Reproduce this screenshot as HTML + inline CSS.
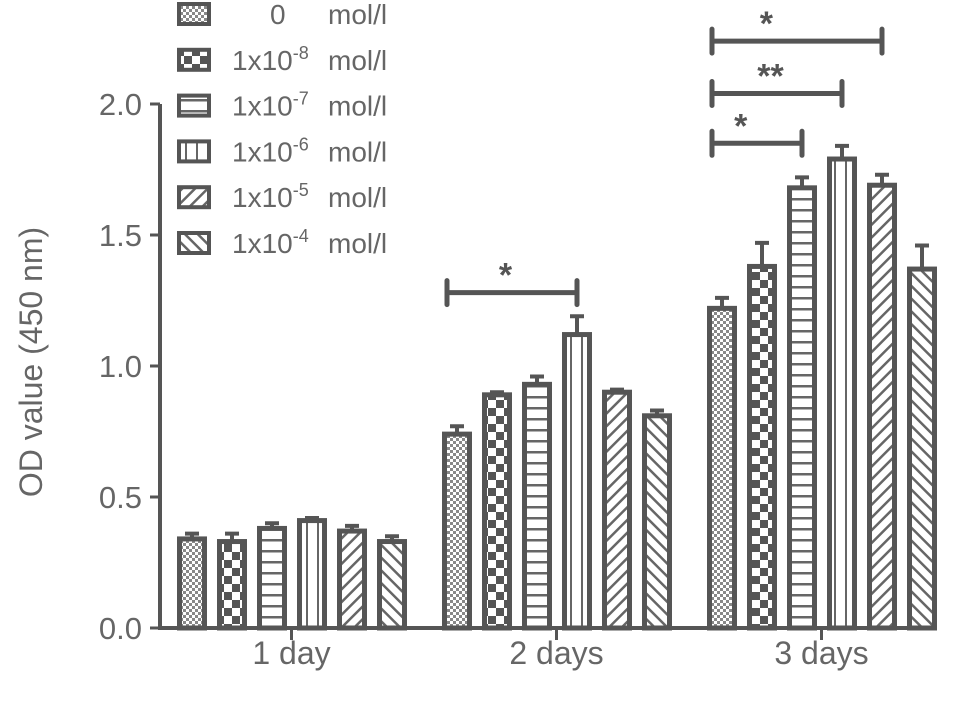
<!DOCTYPE html>
<html><head><meta charset="utf-8"><style>
html,body{margin:0;padding:0;background:#fff;}
svg{display:block;font-family:"Liberation Sans",sans-serif;}
</style></head><body>
<svg id="chart" width="969" height="713" viewBox="0 0 969 713" xmlns="http://www.w3.org/2000/svg">
<defs>
<pattern id="p0" width="6" height="6" patternUnits="userSpaceOnUse"><rect width="6" height="6" fill="#fff"/><rect x="0" y="0" width="3" height="3" fill="#888"/><rect x="3" y="3" width="3" height="3" fill="#888"/></pattern>
<pattern id="p1" width="16" height="16" patternUnits="userSpaceOnUse"><rect width="16" height="16" fill="#fff"/><rect x="0" y="0" width="8" height="8" fill="#555"/><rect x="8" y="8" width="8" height="8" fill="#555"/></pattern>
<pattern id="p2" width="10" height="11" patternUnits="userSpaceOnUse"><rect width="10" height="11" fill="#fff"/><rect y="0" width="10" height="2.5" fill="#666"/></pattern>
<pattern id="p3" width="11" height="10" patternUnits="userSpaceOnUse"><rect width="11" height="10" fill="#fff"/><rect x="9" width="2.5" height="10" fill="#666"/></pattern>
<pattern id="p4" width="9" height="9" patternUnits="userSpaceOnUse" patternTransform="rotate(45)"><rect width="9" height="9" fill="#fff"/><rect width="2.5" height="9" fill="#666"/></pattern>
<pattern id="p5" width="9" height="9" patternUnits="userSpaceOnUse" patternTransform="rotate(-45)"><rect width="9" height="9" fill="#fff"/><rect width="2.5" height="9" fill="#666"/></pattern>
</defs>
<g id="axes"></g><g id="bars"></g><g id="sig"></g><g id="legend"></g>
<text transform="translate(42,362) rotate(-90)" text-anchor="middle" font-size="32" fill="#666">OD value (450 nm)</text>
</svg>
<script>
const categories = ["1 day","2 days","3 days"];
const seriesNames = ["0","1x10-8","1x10-7","1x10-6","1x10-5","1x10-4"];
const seriesExp = ["","-8","-7","-6","-5","-4"];
const day1 = [0.34,0.33,0.38,0.41,0.37,0.33];
const day2 = [0.74,0.89,0.93,1.12,0.90,0.81];
const day3 = [1.22,1.38,1.68,1.79,1.69,1.37];
const err1 = [0.02,0.03,0.02,0.01,0.02,0.02];
const err2 = [0.03,0.01,0.03,0.07,0.01,0.02];
const err3 = [0.04,0.09,0.04,0.05,0.04,0.09];
const yTicks = [0,0.5,1.0,1.5,2.0];
const yTickLabels = ["0.0","0.5","1.0","1.5","2.0"];
const sigGroup = [1,2,2,2];
const sigFrom = [0,0,0,0];
const sigTo = [3,2,3,4];
const sigLabel = ["*","*","**","*"];
const sigLevel = [1.28,1.85,2.04,2.24];

const NS="http://www.w3.org/2000/svg";
const C="#555";
function y(v){return 628 - v*262;}
function groupCenter(g){return 291.5 + g*265;}
function barX(g,s){return groupCenter(g) - 114.5 + s*40;}
function mk(tag,attrs,parent){const e=document.createElementNS(NS,tag);for(const k in attrs)e.setAttribute(k,attrs[k]);parent.appendChild(e);return e;}
const axes=document.getElementById('axes'),bars=document.getElementById('bars'),sig=document.getElementById('sig'),leg=document.getElementById('legend');

let ax=mk('path',{d:`M160 ${y(2)} V${y(0)} H936`,stroke:C,'stroke-width':4,fill:'none'},axes);


yTicks.forEach((t,i)=>{
  let l=mk('line',{x1:150,x2:160,y1:y(t),y2:y(t),stroke:C,'stroke-width':3},axes);
  
  
  let tx=mk('text',{x:142,y:y(t)+11,'text-anchor':'end','font-size':31,fill:'#666'},axes);
  tx.textContent=yTickLabels[i];
  
  
});
categories.forEach((c,g)=>{
  let l=mk('line',{x1:groupCenter(g),x2:groupCenter(g),y1:628,y2:640,stroke:C,'stroke-width':3},axes);
  
  
  let tx=mk('text',{x:groupCenter(g),y:664,'text-anchor':'middle','font-size':32,fill:'#666'},axes);
  tx.textContent=c;
  
  
});
const vals=[day1,day2,day3],errs=[err1,err2,err3];
vals.forEach((arr,g)=>{arr.forEach((v,s)=>{
  const x=barX(g,s), top=y(v), et=y(v+errs[g][s]);
  let eb=mk('path',{d:`M${x+15} ${top} V${et} M${x+8} ${et} H${x+22}`,stroke:C,'stroke-width':4,fill:'none'},bars);
  
  
  let r=mk('rect',{x:x+2.5,y:top,width:25,height:628-top,fill:`url(#p${s})`,stroke:C,'stroke-width':5},bars);
  
  
});});
sigLabel.forEach((lab,i)=>{
  const g=sigGroup[i],x1=barX(g,sigFrom[i])+5,x2=barX(g,sigTo[i])+15,yy=y(sigLevel[i]);
  let p=mk('path',{d:`M${x1} ${yy-12} V${yy+12} M${x1} ${yy} H${x2} M${x2} ${yy-12} V${yy+12}`,stroke:C,'stroke-width':5,fill:'none','stroke-linecap':'round'},sig);
  
  
  let t=mk('text',{x:x1+(x2-x1)*(lab==='**'?0.45:(i===0?0.45:0.32)),y:yy-6,'text-anchor':'middle','font-size':34,'font-weight':'bold',fill:C},sig);
  t.textContent=lab;
  
  
});
seriesNames.forEach((n,i)=>{
  const cy=14+i*45.8;
  let r=mk('rect',{x:179,y:cy-10,width:30,height:20,fill:`url(#p${i})`,stroke:C,'stroke-width':4},leg);
  
  
  let t=mk('text',{x:232,y:cy+10,'font-size':28,fill:'#666'},leg);
  
  
  if(i===0){
    let a=mk('tspan',{x:270},t);a.textContent='0';
    let b=mk('tspan',{x:328},t);b.textContent='mol/l';
  }else{
    let a=mk('tspan',{},t);a.textContent='1x10';
    let b=mk('tspan',{dy:-11,'font-size':18},t);b.textContent=seriesExp[i];
    let c=mk('tspan',{x:328,dy:11},t);c.textContent='mol/l';
  }
});
</script>
</body></html>
